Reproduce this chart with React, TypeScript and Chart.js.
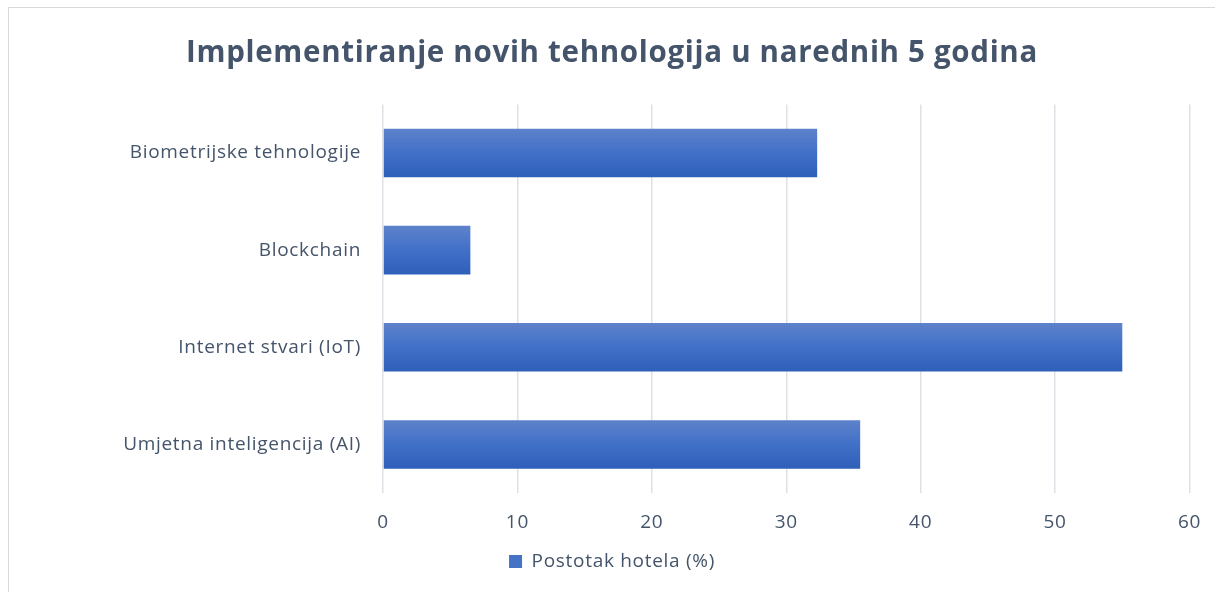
import React, { useEffect, useRef } from "react";
import { Chart, registerables } from "chart.js";

Chart.register(...registerables);

const categories = [
  "Biometrijske tehnologije",
  "Blockchain",
  "Internet stvari (IoT)",
  "Umjetna inteligencija (AI)",
];
const values = [32.3, 6.5, 55, 35.5];
const seriesLabel = "Postotak hotela (%)";
const titleText = "Implementiranje novih tehnologija u narednih 5 godina";
const xMin = 0;
const xMax = 60;
const xStep = 10;

const FONT = "'Open Sans', sans-serif";
const PAD_LEFT = 34.5;
const PAD_RIGHT = 25.5;

const spacingPlugin = {
  id: "spacing",
  beforeUpdate(chart: any) {
    chart.ctx.letterSpacing = "0.7px";
  },
  beforeDraw(chart: any) {
    chart.ctx.letterSpacing = "0.7px";
  },
};

export default function App() {
  const ref = useRef<HTMLCanvasElement | null>(null);

  useEffect(() => {
    if (!ref.current) return;
    const chart = new Chart(ref.current, {
      type: "bar",
      plugins: [spacingPlugin],
      data: {
        labels: categories,
        datasets: [
          {
            label: seriesLabel,
            data: values,
            barPercentage: 0.5,
            categoryPercentage: 1,
            borderWidth: 0,
            backgroundColor: (ctx: any) => {
              const c = ctx.chart;
              const ys = c.scales && c.scales.y;
              if (!c.chartArea || !ys || ctx.dataIndex === undefined) return "#4472C4";
              const yc = ys.getPixelForValue(ctx.dataIndex);
              const h = (c.chartArea.bottom - c.chartArea.top) / categories.length / 2;
              const g = c.ctx.createLinearGradient(0, yc - h / 2, 0, yc + h / 2);
              g.addColorStop(0, "#5E82CB");
              g.addColorStop(0.5, "#4170C8");
              g.addColorStop(1, "#2E5FB9");
              return g;
            },
          },
        ],
      },
      options: {
        indexAxis: "y",
        animation: false,
        responsive: false,
        maintainAspectRatio: false,
        layout: { padding: { left: PAD_LEFT, right: PAD_RIGHT, top: 0, bottom: 11 } },
        scales: {
          x: {
            min: xMin,
            max: xMax,
            ticks: {
              stepSize: xStep,
              color: "#44546A",
              font: { family: FONT, size: 19, lineHeight: 1.0 },
              padding: 20,
            },
            grid: { color: "#DDE1E6", lineWidth: 1.5, drawTicks: false },
            border: { display: false },
            afterFit: (scale: any) => {
              scale.paddingLeft = 0;
              scale.paddingRight = 0;
            },
          },
          y: {
            ticks: {
              color: "#44546A",
              font: { family: FONT, size: 19 },
              padding: 22,
            },
            grid: { display: false, drawTicks: false },
            border: { display: false },
            afterFit: (scale: any) => {
              scale.width = 383 - PAD_LEFT;
            },
          },
        },
        plugins: {
          title: {
            display: true,
            text: titleText,
            color: "#44546A",
            font: { family: FONT, size: 29.5, weight: "bold" },
            padding: { top: 36, bottom: 33 },
          },
          legend: {
            position: "bottom",
            labels: {
              color: "#44546A",
              font: { family: FONT, size: 19 },
              boxWidth: 13,
              boxHeight: 13,
              padding: 0,
              generateLabels: () => [
                {
                  text: seriesLabel,
                  fillStyle: "#4472C4",
                  strokeStyle: "#4472C4",
                  lineWidth: 0,
                  fontColor: "#44546A",
                  datasetIndex: 0,
                } as any,
              ],
            },
          },
          tooltip: { enabled: false },
        },
      },
    });
    return () => chart.destroy();
  }, []);

  return (
    <div style={{ position: "fixed", left: 0, top: 0, width: 1215, height: 592, background: "#fff", overflow: "hidden" }}>
      <div
        style={{
          position: "absolute",
          left: 8,
          top: 7,
          width: 1230,
          height: 620,
          border: "1px solid #D9D9D9",
          boxSizing: "border-box",
        }}
      />
      <canvas ref={ref} width={1215} height={592} style={{ position: "absolute", left: 0, top: 0 }} />
    </div>
  );
}
